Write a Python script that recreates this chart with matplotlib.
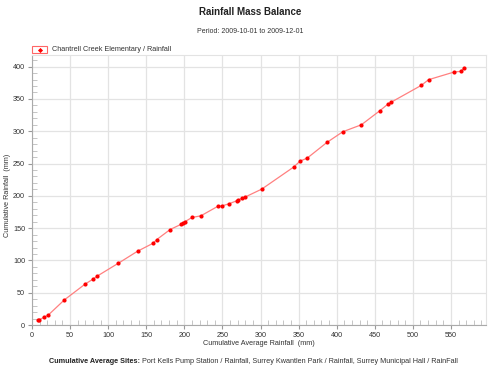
import matplotlib.pyplot as plt
from matplotlib.ticker import MultipleLocator

plt.rcParams['font.family'] = ['Liberation Sans', 'DejaVu Sans']

# cumulative average rainfall (mm) vs cumulative site rainfall (mm)
avg_rain = [8.3, 9.6, 16.0, 21.0, 42.4, 70.0, 80.5, 85.3, 113.3, 138.5,
            159.0, 163.8, 181.3, 196.2, 198.6, 200.4, 210.0, 221.6, 244.0,
            249.5, 258.5, 268.6, 270.3, 275.8, 279.2, 301.6, 343.8, 352.0,
            361.3, 387.1, 408.0, 432.4, 456.7, 466.8, 471.1, 510.9, 520.6,
            554.2, 563.0, 567.4]
site_rain = [7.8, 7.8, 12.4, 15.0, 38.8, 63.6, 71.3, 75.5, 95.6, 114.2,
             126.6, 132.3, 147.8, 156.2, 158.0, 159.7, 166.5, 169.0, 183.8,
             184.5, 187.6, 192.3, 193.2, 196.5, 197.8, 210.4, 244.8, 253.8,
             258.4, 282.6, 299.2, 310.0, 331.8, 341.6, 344.7, 370.9, 379.8,
             391.7, 392.7, 398.4]

series_name = "Chantrell Creek Elementary / Rainfall"
avg_sites = "Port Kells Pump Station / Rainfall, Surrey Kwantlen Park / Rainfall, Surrey Municipal Hall / RainFall"

fig = plt.figure(figsize=(5, 3.75), dpi=100)
ax = fig.add_axes([0.064, 0.1333, 0.908, 0.72])

ax.plot(avg_rain, site_rain, color='#ff8080', lw=0.9, zorder=2)
ax.plot(avg_rain, site_rain, ls='none', marker='o', ms=3.0, mew=0, color='red', zorder=3)

ax.set_xlim(0, 596)
ax.set_ylim(0, 418)
ax.xaxis.set_major_locator(MultipleLocator(50))
ax.yaxis.set_major_locator(MultipleLocator(50))
ax.xaxis.set_minor_locator(MultipleLocator(10))
ax.yaxis.set_minor_locator(MultipleLocator(10))
ax.grid(True, which='major', color='#e3e3e3', lw=0.9)
ax.set_axisbelow(True)

for s in ['top', 'right']:
    ax.spines[s].set_color('#e3e3e3')
for s in ['left', 'bottom']:
    ax.spines[s].set_color('#aaaaaa')
    ax.spines[s].set_linewidth(0.8)
ax.tick_params(which='major', direction='out', length=3, color='#999999',
               labelsize=5.2, labelcolor='#333333', pad=2)
ax.tick_params(which='minor', direction='in', length=3.5, color='#bbbbbb')

ax.set_xlabel("Cumulative Average Rainfall  (mm)", fontsize=5.2, color='#333333', labelpad=1)
fig.text(8 / 500, 0.48, "Cumulative Rainfall  (mm)", rotation=90, ha='center', va='center',
         fontsize=5.2, color='#333333')

fig.text(0.5, 0.968, "Rainfall Mass Balance", ha='center', va='center',
         fontsize=7, fontweight='bold', color='#222222')
fig.text(0.5, 0.917, "Period: 2009-10-01 to 2009-12-01", ha='center', va='center',
         fontsize=5, color='#333333')

# legend: small red-framed swatch plus label
fig.patches.append(plt.Rectangle((32 / 500, 1 - 53 / 375), 15 / 500, 7 / 375,
                                 transform=fig.transFigure, fill=False,
                                 ec='#ff6666', lw=0.8))
fig.lines.append(plt.Line2D([39.5 / 500], [1 - 49.5 / 375], transform=fig.transFigure,
                            marker='D', ms=2.6, mew=0, color='red', ls='none'))
fig.text(52 / 500, 1 - 49.5 / 375, series_name, ha='left', va='center',
         fontsize=5.2, color='#333333')

t1 = fig.text(0.098, 0.035, "Cumulative Average Sites: ", ha='left', va='center',
              fontsize=5.2, fontweight='bold', color='#222222')
fig.canvas.draw()
bb = t1.get_window_extent()
x1 = fig.transFigure.inverted().transform((bb.x1, bb.y0))[0]
fig.text(x1, 0.035, avg_sites, ha='left', va='center', fontsize=5.2, color='#333333')

fig.savefig("out.png", dpi=100)
